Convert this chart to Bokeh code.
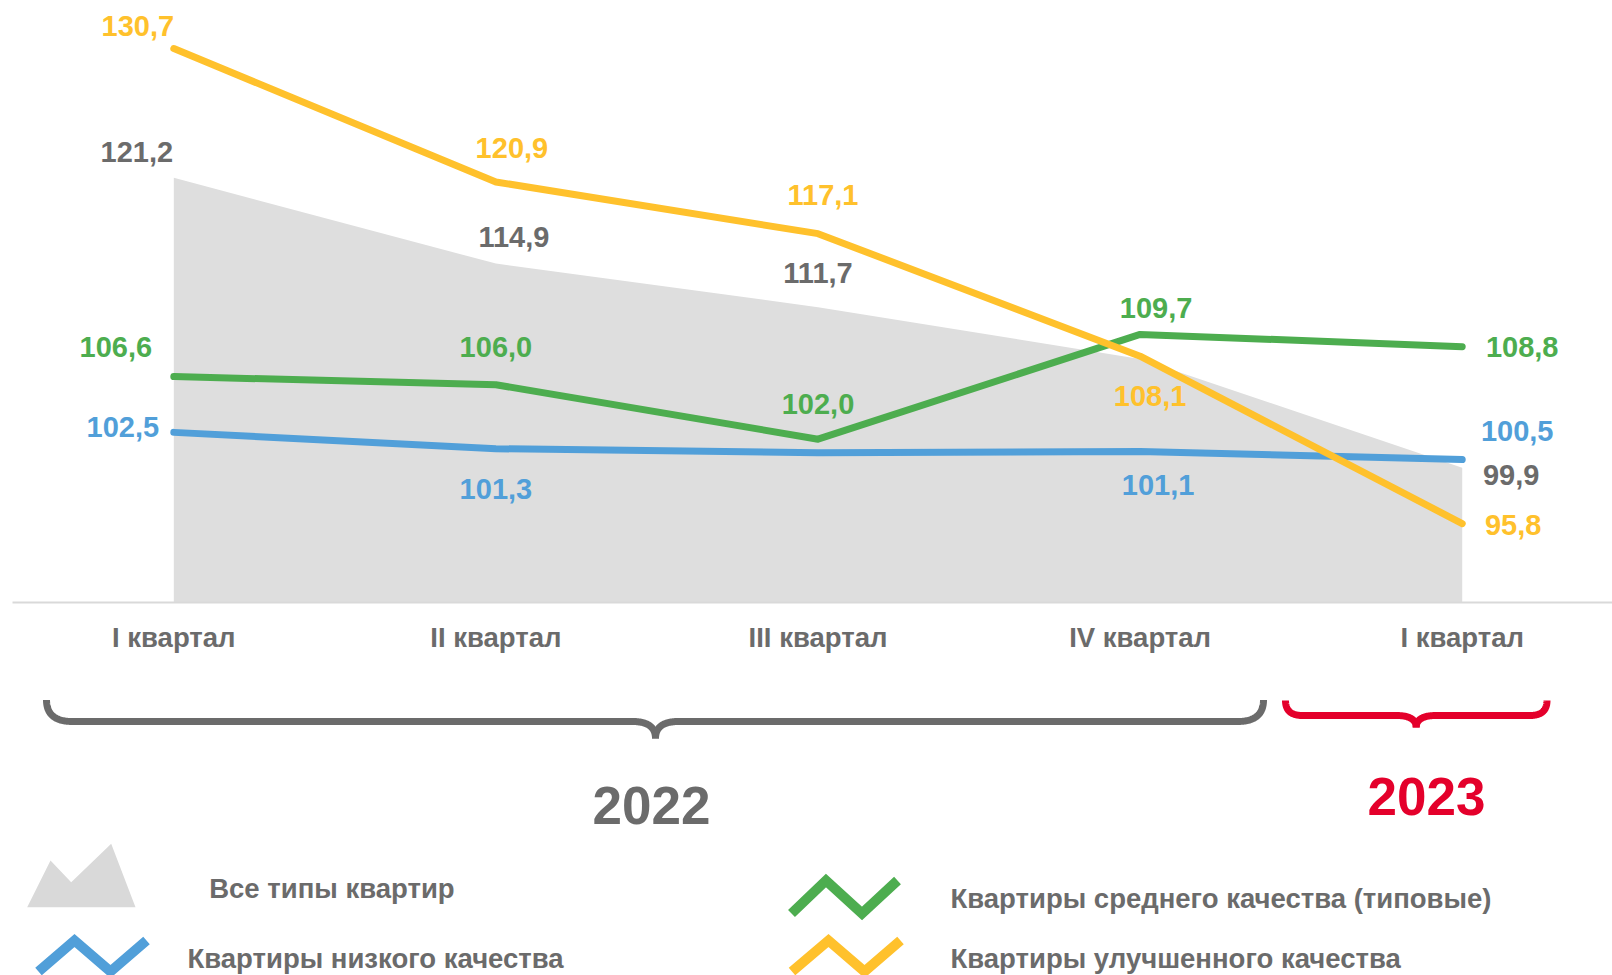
import numpy as np
from bokeh.plotting import figure
from bokeh.models import Range1d, FixedTicker, ColumnDataSource
from bokeh.layouts import column
from bokeh.embed import file_html
from bokeh.resources import INLINE
from bokeh.core.properties import value

# ---------------- data ----------------
quarters = ["I квартал", "II квартал", "III квартал", "IV квартал", "I квартал"]
years = ["2022", "2023"]
all_types = [121.2, 114.9, 111.7, 107.9, 99.9]
low_quality = [102.5, 101.3, 101.0, 101.1, 100.5]
mid_quality = [106.6, 106.0, 102.0, 109.7, 108.8]
high_quality = [130.7, 120.9, 117.1, 108.1, 95.8]
series_names = ["Все типы квартир", "Квартиры низкого качества",
                "Квартиры среднего качества (типовые)", "Квартиры улучшенного качества"]
# which value labels are printed on the chart
all_types_shown = [True, True, True, False, True]
low_shown = [True, True, False, True, True]
mid_shown = [True, True, True, True, True]
high_shown = [True, True, True, True, True]

# ---------------- styles / label placement (screen px) ----------------
YELLOW = "#FFC12C"
GREEN = "#4DAD4F"
BLUE = "#519FD9"
GRAYTXT = "#6B6B6B"
AREA = "#DEDEDE"
ICON_GRAY = "#D9D9D9"
RED = "#E4002B"
FONT = "Liberation Sans"
FS = "27.5px"
FS_VAL = "29px"
LABEL_SHIFT = -2

off_all = [(-37, -24), (18, -25), (0, -32), (0, 0), (49, 9)]
off_low = [(-51, -3), (0, 42), (0, 0), (18, 36), (55, -27)]
off_mid = [(-58, -28), (0, -36), (0, -33), (16, -24), (60, 2)]
off_high = [(-36, -21), (16, -32), (5, -37), (10, 42), (51, 3)]

xs = list(range(len(quarters)))
PX_PER_UNIT = 13.61
Y0 = 90
FRAME_H = 594
W = 1612
LEFT = 12

p = figure(width=W, height=688, title=None,
           x_range=Range1d(-0.5008, -0.5008 + (W - LEFT) / 322.1),
           y_range=Range1d(Y0, Y0 + FRAME_H / PX_PER_UNIT),
           output_backend="svg", toolbar_location=None, y_axis_location=None,
           min_border_left=LEFT, min_border_right=0, min_border_top=8, min_border_bottom=86)
p.outline_line_color = None
p.grid.visible = False
p.background_fill_color = "white"
p.border_fill_color = "white"

ax = p.xaxis[0]
ax.ticker = FixedTicker(ticks=xs)
ax.major_label_overrides = {i: q for i, q in enumerate(quarters)}
ax.axis_line_color = "#D9D9D9"
ax.axis_line_width = 2
ax.major_tick_line_color = None
ax.minor_tick_line_color = None
ax.major_tick_in = 0
ax.major_tick_out = 0
ax.major_label_standoff = 19
ax.major_label_text_font = FONT
ax.major_label_text_font_style = "bold"
ax.major_label_text_font_size = FS
ax.major_label_text_color = GRAYTXT

p.varea(x=xs, y1=[Y0] * len(xs), y2=all_types, fill_color=AREA, fill_alpha=1)
p.line(xs, low_quality, line_color=BLUE, line_width=7, line_cap="round", line_join="round")
p.line(xs, mid_quality, line_color=GREEN, line_width=7, line_cap="round", line_join="round")
p.line(xs, high_quality, line_color=YELLOW, line_width=7, line_cap="round", line_join="round")


def add_labels(vals, shown, offs, color):
    d = dict(x=[], y=[], t=[], dx=[], dy=[])
    for i, (v, s, o) in enumerate(zip(vals, shown, offs)):
        if not s:
            continue
        d["x"].append(xs[i])
        d["y"].append(v)
        d["t"].append(f"{v:.1f}".replace(".", ","))
        d["dx"].append(o[0])
        d["dy"].append(o[1] + LABEL_SHIFT)
    src = ColumnDataSource(d)
    p.text(x="x", y="y", text="t", x_offset="dx", y_offset="dy", source=src,
           text_font=value(FONT), text_font_style="bold", text_font_size=FS_VAL,
           text_color=color, text_align="center", text_baseline="middle")


add_labels(all_types, all_types_shown, off_all, GRAYTXT)
add_labels(low_quality, low_shown, off_low, BLUE)
add_labels(mid_quality, mid_shown, off_mid, GREEN)
add_labels(high_quality, high_shown, off_high, YELLOW)

# ---------------- lower panel: braces, years, legend ----------------
# frame aligned with the chart frame above, so page x = data x
q = figure(width=W, height=287, title=None,
           x_range=Range1d(LEFT, W), y_range=Range1d(975, 688),
           output_backend="svg", toolbar_location=None,
           x_axis_location=None, y_axis_location=None,
           min_border_left=LEFT, min_border_right=0, min_border_top=0, min_border_bottom=0)
q.outline_line_color = None
q.grid.visible = False


def brace_halves(x0, x1, xc, ytop, yh, ytip, rx, cw, n=40):
    t = np.linspace(0, 1, n)

    def qb(a, b, c):
        return (list((1 - t) ** 2 * a[0] + 2 * (1 - t) * t * b[0] + t ** 2 * c[0]),
                list((1 - t) ** 2 * a[1] + 2 * (1 - t) * t * b[1] + t ** 2 * c[1]))
    l1 = qb((x0, ytop), (x0, yh), (x0 + rx, yh))
    l2 = qb((xc - cw, yh), (xc, yh), (xc, ytip))
    r1 = qb((xc, ytip), (xc, yh), (xc + cw, yh))
    r2 = qb((x1 - rx, yh), (x1, yh), (x1, ytop))
    return [l1[0] + l2[0], r1[0] + r2[0]], [l1[1] + l2[1], r1[1] + r2[1]]


bx, by = brace_halves(46, 1263, 655, 699.5, 721, 738, 26, 23)
q.multi_line(bx, by, line_color=GRAYTXT, line_width=7, line_cap="butt", line_join="round")
bx, by = brace_halves(1285, 1546.5, 1415.7, 700, 715, 727, 17, 20)
q.multi_line(bx, by, line_color=RED, line_width=7, line_cap="butt", line_join="round")

q.text(x=[651], y=[805], text=[years[0]], text_font=value(FONT), text_font_style="bold",
       text_font_size="53px", text_color=GRAYTXT, text_align="center", text_baseline="middle")
q.text(x=[1426], y=[796], text=[years[1]], text_font=value(FONT), text_font_style="bold",
       text_font_size="53px", text_color=RED, text_align="center", text_baseline="middle")

# legend icons
q.patch([26.7, 50, 70.7, 110.7, 135], [906.7, 860, 881.7, 843.3, 906.7],
        fill_color=ICON_GRAY, line_color=None)
q.line([38, 74, 110, 146], [971, 940, 971, 940], line_color=BLUE, line_width=10,
       line_cap="butt", line_join="miter")
q.line([791, 825.5, 861.5, 897], [913, 880, 913, 880], line_color=GREEN, line_width=10,
       line_cap="butt", line_join="miter")
q.line([791.5, 828, 864, 900], [971, 940, 971, 940], line_color=YELLOW, line_width=10,
       line_cap="butt", line_join="miter")

q.text(x=[208.7, 187, 950, 950], y=[888, 958, 898, 958], text=series_names,
       text_font=value(FONT), text_font_style="bold", text_font_size=FS,
       text_color=GRAYTXT, text_align="left", text_baseline="middle")

layout = column(p, q)
open("out.html", "w").write(file_html(layout, INLINE))
